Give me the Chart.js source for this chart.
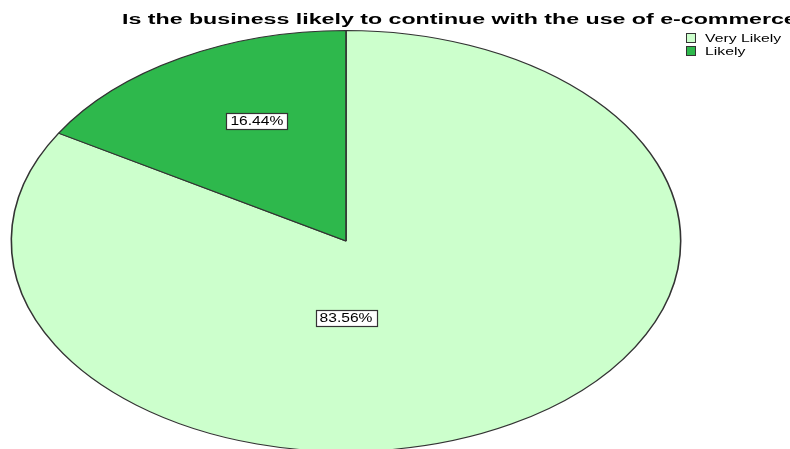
<!DOCTYPE html>
<html>
<head>
<meta charset="utf-8">
<script src="https://cdn.jsdelivr.net/npm/chart.js@4.4.0/dist/chart.umd.min.js"></script>
<style>
  html, body { margin: 0; padding: 0; background: #fff; overflow: hidden; }
  #pie { display: block; }
</style>
</head>
<body>
<canvas id="pie" width="790" height="460"></canvas>
<script>
// Poursuite de l'e-commerce : répartition des réponses
const titre = 'Is the business likely to continue with the use of e-commerce';
const categories = ['Very Likely', 'Likely'];
const pourcentages = [83.56, 16.44];
const couleurs = ['#ccffcc', '#2eb84c'];

// le camembert est étiré horizontalement (ellipse)
const etirement = 1.59;

// position des étiquettes : angle depuis midi (sens horaire, degrés) et fraction du rayon
const positionsEtiquettes = [
  { angle: 180, rayon: 0.365 },
  { angle: -25, rayon: 0.63 }
];

function texteEtire(ctx, txt, x, y, font, sx, align) {
  ctx.save();
  ctx.font = font;
  ctx.textAlign = 'left';
  ctx.textBaseline = 'alphabetic';
  const w = ctx.measureText(txt).width * sx;
  const x0 = align === 'center' ? x - w / 2 : x;
  ctx.translate(x0, y);
  ctx.scale(sx, 1);
  ctx.fillText(txt, 0, 0);
  ctx.restore();
  return w;
}

const ellipse = {
  id: 'ellipse',
  beforeDatasetsDraw(chart) {
    const arc = chart.getDatasetMeta(0).data[0];
    const ctx = chart.ctx;
    ctx.save();
    ctx.translate(arc.x, arc.y);
    ctx.scale(etirement, 1);
    ctx.translate(-arc.x, -arc.y);
  },
  afterDatasetsDraw(chart) {
    chart.ctx.restore();
  },
  afterDraw(chart) {
    const ctx = chart.ctx;

    // titre
    ctx.fillStyle = '#000';
    texteEtire(ctx, titre, 122, 24, 'bold 14px "Liberation Sans"', 1.655);

    // légende
    categories.forEach((c, i) => {
      const y = 33 + i * 13;
      ctx.fillStyle = couleurs[i];
      ctx.fillRect(686, y, 9, 9);
      ctx.strokeStyle = '#333';
      ctx.lineWidth = 1;
      ctx.strokeRect(686.5, y + 0.5, 9, 9);
      ctx.fillStyle = '#000';
      texteEtire(ctx, c, 705, y + 9, '10.5px "Liberation Sans"', 1.5);
    });

    // étiquettes des valeurs
    const meta = chart.getDatasetMeta(0);
    meta.data.forEach((arc, i) => {
      const p = positionsEtiquettes[i];
      const a = p.angle * Math.PI / 180;
      const lx = arc.x + Math.sin(a) * arc.outerRadius * p.rayon * etirement;
      const ly = arc.y - Math.cos(a) * arc.outerRadius * p.rayon;
      const txt = pourcentages[i].toFixed(2) + '%';
      const bw = 61, bh = 16;
      const bx = Math.round(lx - bw / 2) + 0.5;
      const by = Math.round(ly - bh / 2) + 0.5;
      ctx.fillStyle = '#fff';
      ctx.fillRect(bx, by, bw, bh);
      ctx.strokeStyle = '#333';
      ctx.lineWidth = 1.2;
      ctx.strokeRect(bx, by, bw, bh);
      ctx.fillStyle = '#000';
      texteEtire(ctx, txt, lx, ly + 4.5, '12px "Liberation Sans"', 1.3, 'center');
    });
  }
};

new Chart(document.getElementById('pie'), {
  type: 'pie',
  data: {
    labels: categories,
    datasets: [{
      data: pourcentages,
      backgroundColor: couleurs,
      borderColor: '#333',
      borderWidth: 1,
      hoverOffset: 0,
      clip: false
    }]
  },
  options: {
    responsive: false,
    animation: false,
    events: [],
    rotation: 0,
    layout: { padding: { top: 30, bottom: 8, left: 135, right: 233 } },
    plugins: {
      legend: { display: false },
      title: { display: false },
      tooltip: { enabled: false }
    }
  },
  plugins: [ellipse]
});
</script>
</body>
</html>
